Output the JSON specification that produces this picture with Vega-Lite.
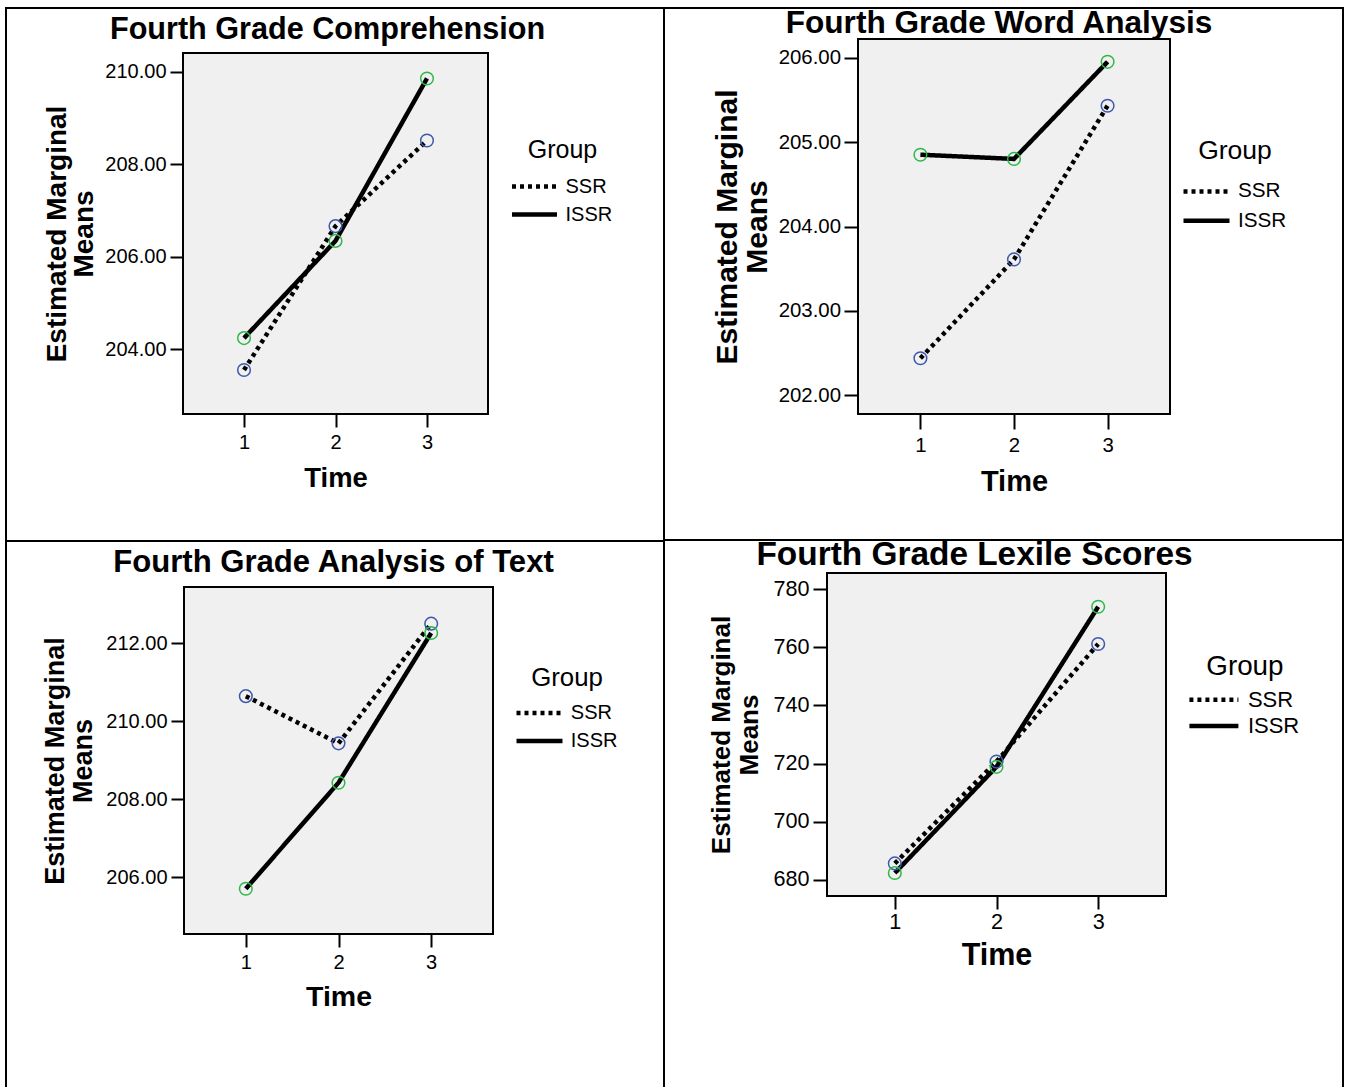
{
"$schema": "https://vega.github.io/schema/vega-lite/v6.json",
"padding": {"left": 5, "top": 7, "right": 4, "bottom": 0},
"background": "white",
"datasets": {
"comp": [
{"time": 1, "group": "SSR", "mean": 203.55}, {"time": 2, "group": "SSR", "mean": 206.66}, {"time": 3, "group": "SSR", "mean": 208.51},
{"time": 1, "group": "ISSR", "mean": 204.24}, {"time": 2, "group": "ISSR", "mean": 206.34}, {"time": 3, "group": "ISSR", "mean": 209.85}],
"word": [
{"time": 1, "group": "SSR", "mean": 202.44}, {"time": 2, "group": "SSR", "mean": 203.61}, {"time": 3, "group": "SSR", "mean": 205.43},
{"time": 1, "group": "ISSR", "mean": 204.85}, {"time": 2, "group": "ISSR", "mean": 204.80}, {"time": 3, "group": "ISSR", "mean": 205.95}],
"text": [
{"time": 1, "group": "SSR", "mean": 210.64}, {"time": 2, "group": "SSR", "mean": 209.43}, {"time": 3, "group": "SSR", "mean": 212.50},
{"time": 1, "group": "ISSR", "mean": 205.70}, {"time": 2, "group": "ISSR", "mean": 208.42}, {"time": 3, "group": "ISSR", "mean": 212.26}],
"lexile": [
{"time": 1, "group": "SSR", "mean": 685.7}, {"time": 2, "group": "SSR", "mean": 720.7}, {"time": 3, "group": "SSR", "mean": 761.1},
{"time": 1, "group": "ISSR", "mean": 682.4}, {"time": 2, "group": "ISSR", "mean": 718.9}, {"time": 3, "group": "ISSR", "mean": 773.9}]
},
"align": "each",
"bounds": "full",
"spacing": 0,
"resolve": {"scale": {"x": "independent", "y": "independent", "strokeDash": "independent"}, "legend": {"strokeDash": "independent"}},
"concat": [
{"width": 2, "height": 1080, "data": {"values": []}, "mark": "point", "view": {"fill": "black", "stroke": null}},
{
 "columns": 1, "align": "each", "bounds": "full", "spacing": 0,
 "resolve": {"scale": {"x": "independent", "y": "independent", "strokeDash": "independent"}, "legend": {"strokeDash": "independent"}},
 "concat": [
  {
   "columns": 2, "align": "each", "bounds": "flush", "spacing": 0,
   "resolve": {"scale": {"x": "independent", "y": "independent", "strokeDash": "independent"}, "legend": {"strokeDash": "independent"}},
   "concat": [
    {"width": 176, "height": 2, "data": {"values": []}, "mark": "point", "view": {"fill": "black", "stroke": null}},
    {"width": 480, "height": 2, "data": {"values": []}, "mark": "point", "view": {"fill": "black", "stroke": null}},
    {"width": 1, "height": 44, "data": {"values": []}, "mark": "point", "view": {"fill": null, "stroke": null}},
    {"width": 1, "height": 1, "data": {"values": []}, "mark": "point", "view": {"fill": null, "stroke": null}},
    {"width": 176, "height": 1, "data": {"values": []}, "mark": "point", "view": {"fill": null, "stroke": null}},
    {
     "width": 305, "height": 361,
     "title": {"text": "Fourth Grade Comprehension", "offset": 7, "dx": -8, "fontSize": 30.6},
     "data": {"name": "comp"},
     "encoding": {
      "x": {"field": "time", "type": "ordinal", "scale": {"type": "point", "padding": 0.667}, "axis": {"title": "Time", "labelFontSize": 20, "titleFontSize": 27.4, "titlePadding": 12, "tickSize": 13, "labelPadding": 5}},
      "y": {"field": "mean", "type": "quantitative", "scale": {"domain": [202.6, 210.4], "nice": false, "zero": false}, "axis": {"title": ["Estimated Marginal", "Means"], "values": [204, 206, 208, 210], "format": ".2f", "labelFontSize": 20, "titleFontSize": 28, "titleLineHeight": 27, "titlePadding": 6, "tickSize": 13, "labelPadding": 4}}
     },
     "layer": [
      {"mark": {"type": "line", "color": "black", "strokeWidth": 4.5, "strokeCap": "butt"},
       "encoding": {"strokeDash": {"field": "group", "type": "nominal", "scale": {"domain": ["SSR", "ISSR"], "range": [[4, 4], [1, 0]]}, "legend": {"title": "Group", "orient": "none", "legendX": 329.5, "legendY": 84.5, "symbolType": "M-2.25,0H2.25", "symbolSize": 400, "symbolOffset": 9.5, "titleFontSize": 25, "labelFontSize": 20, "rowPadding": 5, "titlePadding": 11.5, "labelOffset": 18.5}}}},
      {"mark": {"type": "point", "shape": "circle", "filled": false, "size": 160, "strokeWidth": 1.5, "opacity": 1},
       "encoding": {"color": {"condition": {"test": "datum.group === 'SSR'", "value": "#3E58AC"}, "value": "#2EB848"}}}
     ]
    },
    {"width": 1, "height": 126, "data": {"values": []}, "mark": "point", "view": {"fill": null, "stroke": null}},
    {"width": 1, "height": 1, "data": {"values": []}, "mark": "point", "view": {"fill": null, "stroke": null}}
   ]
  },
  {
   "columns": 2, "align": "each", "bounds": "flush", "spacing": 0,
   "resolve": {"scale": {"x": "independent", "y": "independent", "strokeDash": "independent"}, "legend": {"strokeDash": "independent"}},
   "concat": [
    {"width": 177, "height": 2, "data": {"values": []}, "mark": "point", "view": {"fill": "black", "stroke": null}},
    {"width": 479, "height": 2, "data": {"values": []}, "mark": "point", "view": {"fill": "black", "stroke": null}},
    {"width": 1, "height": 45, "data": {"values": []}, "mark": "point", "view": {"fill": null, "stroke": null}},
    {"width": 1, "height": 1, "data": {"values": []}, "mark": "point", "view": {"fill": null, "stroke": null}},
    {"width": 177, "height": 1, "data": {"values": []}, "mark": "point", "view": {"fill": null, "stroke": null}},
    {
     "width": 309, "height": 347,
     "title": {"text": "Fourth Grade Analysis of Text", "offset": 9, "dx": -5, "fontSize": 31.1},
     "data": {"name": "text"},
     "encoding": {
      "x": {"field": "time", "type": "ordinal", "scale": {"type": "point", "padding": 0.667}, "axis": {"title": "Time", "labelFontSize": 20, "titleFontSize": 28.5, "titlePadding": 10, "tickSize": 13, "labelPadding": 5}},
      "y": {"field": "mean", "type": "quantitative", "scale": {"domain": [204.54, 213.44], "nice": false, "zero": false}, "axis": {"title": ["Estimated Marginal", "Means"], "values": [206, 208, 210, 212], "format": ".2f", "labelFontSize": 20, "titleFontSize": 27, "titleLineHeight": 27.8, "titlePadding": 8.5, "tickSize": 13, "labelPadding": 4}}
     },
     "layer": [
      {"mark": {"type": "line", "color": "black", "strokeWidth": 4.5, "strokeCap": "butt"},
       "encoding": {"strokeDash": {"field": "group", "type": "nominal", "scale": {"domain": ["SSR", "ISSR"], "range": [[4, 4], [1, 0]]}, "legend": {"title": "Group", "orient": "none", "legendX": 333, "legendY": 78.8, "symbolType": "M-2.3,0H2.3", "symbolSize": 400, "symbolOffset": 10, "titleFontSize": 25.8, "labelFontSize": 20, "rowPadding": 4.8, "titlePadding": 9, "labelOffset": 18.8}}}},
      {"mark": {"type": "point", "shape": "circle", "filled": false, "size": 160, "strokeWidth": 1.5, "opacity": 1},
       "encoding": {"color": {"condition": {"test": "datum.group === 'SSR'", "value": "#3E58AC"}, "value": "#2EB848"}}}
     ]
    }
   ]
  }
 ]
},
{"width": 2, "height": 1080, "data": {"values": []}, "mark": "point", "view": {"fill": "black", "stroke": null}},
{
 "columns": 1, "align": "each", "bounds": "full", "spacing": 0,
 "resolve": {"scale": {"x": "independent", "y": "independent", "strokeDash": "independent"}, "legend": {"strokeDash": "independent"}},
 "concat": [
  {
   "columns": 2, "align": "each", "bounds": "flush", "spacing": 0,
   "resolve": {"scale": {"x": "independent", "y": "independent", "strokeDash": "independent"}, "legend": {"strokeDash": "independent"}},
   "concat": [
    {"width": 193, "height": 2, "data": {"values": []}, "mark": "point", "view": {"fill": "black", "stroke": null}},
    {"width": 484, "height": 2, "data": {"values": []}, "mark": "point", "view": {"fill": "black", "stroke": null}},
    {"width": 1, "height": 30, "data": {"values": []}, "mark": "point", "view": {"fill": null, "stroke": null}},
    {"width": 1, "height": 1, "data": {"values": []}, "mark": "point", "view": {"fill": null, "stroke": null}},
    {"width": 193, "height": 1, "data": {"values": []}, "mark": "point", "view": {"fill": null, "stroke": null}},
    {
     "width": 312, "height": 375,
     "title": {"text": "Fourth Grade Word Analysis", "offset": -1, "dx": -15, "fontSize": 31.6},
     "data": {"name": "word"},
     "encoding": {
      "x": {"field": "time", "type": "ordinal", "scale": {"type": "point", "padding": 0.667}, "axis": {"title": "Time", "labelFontSize": 20.4, "titleFontSize": 29, "titlePadding": 12.5, "tickSize": 15, "labelPadding": 6}},
      "y": {"field": "mean", "type": "quantitative", "scale": {"domain": [201.78, 206.22], "nice": false, "zero": false}, "axis": {"title": ["Estimated Marginal", "Means"], "values": [202, 203, 204, 205, 206], "format": ".2f", "labelFontSize": 20.4, "titleFontSize": 30, "titleLineHeight": 29.5, "titlePadding": 6, "tickSize": 14, "labelPadding": 3.5}}
     },
     "layer": [
      {"mark": {"type": "line", "color": "black", "strokeWidth": 4.5, "strokeCap": "butt"},
       "encoding": {"strokeDash": {"field": "group", "type": "nominal", "scale": {"domain": ["SSR", "ISSR"], "range": [[4, 4], [1, 0]]}, "legend": {"title": "Group", "orient": "none", "legendX": 326, "legendY": 98.8, "symbolType": "M-2.3,0H2.3", "symbolSize": 400, "symbolOffset": 10, "titleFontSize": 26.5, "labelFontSize": 20.7, "rowPadding": 6.3, "titlePadding": 14.6, "labelOffset": 19}}}},
      {"mark": {"type": "point", "shape": "circle", "filled": false, "size": 160, "strokeWidth": 1.5, "opacity": 1},
       "encoding": {"color": {"condition": {"test": "datum.group === 'SSR'", "value": "#3E58AC"}, "value": "#2EB848"}}}
     ]
    },
    {"width": 1, "height": 122, "data": {"values": []}, "mark": "point", "view": {"fill": null, "stroke": null}},
    {"width": 1, "height": 1, "data": {"values": []}, "mark": "point", "view": {"fill": null, "stroke": null}}
   ]
  },
  {
   "columns": 2, "align": "each", "bounds": "flush", "spacing": 0,
   "resolve": {"scale": {"x": "independent", "y": "independent", "strokeDash": "independent"}, "legend": {"strokeDash": "independent"}},
   "concat": [
    {"width": 162, "height": 2, "data": {"values": []}, "mark": "point", "view": {"fill": "black", "stroke": null}},
    {"width": 515, "height": 2, "data": {"values": []}, "mark": "point", "view": {"fill": "black", "stroke": null}},
    {"width": 1, "height": 32, "data": {"values": []}, "mark": "point", "view": {"fill": null, "stroke": null}},
    {"width": 1, "height": 1, "data": {"values": []}, "mark": "point", "view": {"fill": null, "stroke": null}},
    {"width": 162, "height": 1, "data": {"values": []}, "mark": "point", "view": {"fill": null, "stroke": null}},
    {
     "width": 339, "height": 323,
     "title": {"text": "Fourth Grade Lexile Scores", "offset": 1, "dx": -22, "fontSize": 33.4},
     "data": {"name": "lexile"},
     "encoding": {
      "x": {"field": "time", "type": "ordinal", "scale": {"type": "point", "padding": 0.667}, "axis": {"title": "Time", "labelFontSize": 21.6, "titleFontSize": 30.5, "titlePadding": 7.5, "tickSize": 13, "labelPadding": 2}},
      "y": {"field": "mean", "type": "quantitative", "scale": {"domain": [674.5, 785.5], "nice": false, "zero": false}, "axis": {"title": ["Estimated Marginal", "Means"], "values": [680, 700, 720, 740, 760, 780], "format": "d", "labelFontSize": 21.6, "titleFontSize": 26, "titleLineHeight": 28, "titlePadding": 10, "tickSize": 14, "labelPadding": 4}}
     },
     "layer": [
      {"mark": {"type": "line", "color": "black", "strokeWidth": 4.5, "strokeCap": "butt"},
       "encoding": {"strokeDash": {"field": "group", "type": "nominal", "scale": {"domain": ["SSR", "ISSR"], "range": [[4, 4], [1, 0]]}, "legend": {"title": "Group", "orient": "none", "legendX": 362.9, "legendY": 80, "symbolType": "M-2.45,0H2.45", "symbolSize": 400, "symbolOffset": 11.5, "titleFontSize": 27.8, "labelFontSize": 22, "rowPadding": 2.2, "titlePadding": 6.4, "labelOffset": 21.5}}}},
      {"mark": {"type": "point", "shape": "circle", "filled": false, "size": 160, "strokeWidth": 1.5, "opacity": 1},
       "encoding": {"color": {"condition": {"test": "datum.group === 'SSR'", "value": "#3E58AC"}, "value": "#2EB848"}}}
     ]
    }
   ]
  }
 ]
},
{"width": 2, "height": 1080, "data": {"values": []}, "mark": "point", "view": {"fill": "black", "stroke": null}}
],
"config": {
 "font": "Liberation Sans",
 "view": {"fill": "#f0f0f0", "stroke": "black", "strokeWidth": 2},
 "title": {"font": "Liberation Sans", "fontSize": 30, "fontWeight": "bold", "color": "black", "baseline": "alphabetic"},
 "axis": {"domain": false, "grid": false, "tickColor": "black", "tickWidth": 2, "tickSize": 13, "labelFont": "Liberation Sans", "labelFontSize": 19, "labelColor": "black", "titleFont": "Liberation Sans", "titleFontSize": 27, "titleFontWeight": "bold", "titleColor": "black", "titleLineHeight": 27},
 "axisX": {"labelAngle": 0, "labelPadding": 5, "titlePadding": 10},
 "axisY": {"labelPadding": 4, "titlePadding": 3},
 "legend": {"symbolStrokeWidth": 4.5, "symbolStrokeColor": "black", "symbolFillColor": "transparent", "titleFont": "Liberation Sans", "titleFontSize": 22, "titleFontWeight": "normal", "titleColor": "black", "titleAnchor": "middle", "labelFont": "Liberation Sans", "labelFontSize": 20, "labelColor": "black", "padding": 0, "offset": 0}
}
}
